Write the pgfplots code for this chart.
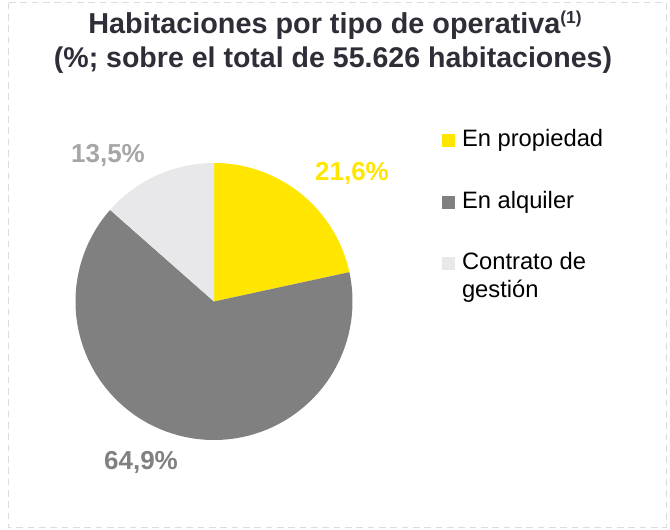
\documentclass[border=0pt]{standalone}
\usepackage{pgfplots}
\pgfplotsset{compat=1.18}
\usepackage{fontspec}
\setmainfont{Liberation Sans}
\definecolor{eyyellow}{HTML}{FFE600}
\definecolor{eydark}{HTML}{808080}
\definecolor{eylight}{HTML}{E8E8EA}
\definecolor{titlecol}{HTML}{2E2E38}
\definecolor{lbllight}{HTML}{A6A6A6}
\definecolor{bordercol}{HTML}{DCDCDC}
% shares (%)
\def\pA{21.6}% En propiedad
\def\pB{64.9}% En alquiler
\def\pC{13.5}% Contrato de gestion
\begin{document}
\begin{tikzpicture}
\begin{scope}[x=0.75pt,y=-0.75pt]
\path[use as bounding box] (0,0) rectangle (670,529);
\draw[draw=bordercol, line width=0.75pt, dash pattern=on 5pt off 3.5pt] (8,2.5) rectangle (666,527);
\node[anchor=base, inner sep=0pt, font=\fontsize{21.6pt}{26pt}\selectfont\bfseries, text=titlecol] at (335,33) {Habitaciones por tipo de operativa\raisebox{0.32em}{\fontsize{13pt}{15pt}\selectfont(1)}};
\node[anchor=base, inner sep=0pt, font=\fontsize{21.4pt}{26pt}\selectfont\bfseries, text=titlecol] at (333,67) {(\%; sobre el total de 55.626 habitaciones)};
\node[anchor=base, inner sep=0pt, font=\fontsize{19.5pt}{23pt}\selectfont\bfseries, text=eyyellow] at (352,180) {21,6\%};
\node[anchor=base, inner sep=0pt, font=\fontsize{19.5pt}{23pt}\selectfont\bfseries, text=lbllight] at (108,162) {13,5\%};
\node[anchor=base, inner sep=0pt, font=\fontsize{19.5pt}{23pt}\selectfont\bfseries, text=eydark] at (141,469) {64,9\%};
\end{scope}
\begin{axis}[
  at={(160.5pt,-226.125pt)}, anchor=center,
  hide axis, scale only axis,
  width=207.75pt, height=207.75pt,
  xmin=-1, xmax=1, ymin=-1, ymax=1,
  clip=false,
  legend style={at={(1.3231,1.1215)}, anchor=north west, draw=none, fill=none,
    inner sep=0pt, outer sep=0pt,
    font=\fontsize{17.8pt}{21pt}\selectfont,
    nodes={inner sep=0pt, text height=13.2pt, text depth=3.9pt},
    row sep=29.0pt, column sep=5.25pt},
  legend cell align=left,
  legend image code/.code={\fill[#1] (0pt,-4.875pt) rectangle (9.75pt,4.875pt);},
]
\addplot[fill=eyyellow, draw=none, domain={90-3.6*\pA}:90, samples=120]
  ({cos(x)},{sin(x)}) -- (axis cs:0,0) -- cycle;
\addlegendentry{En propiedad}
\addplot[fill=eydark, draw=none, domain={90-3.6*(\pA+\pB)}:{90-3.6*\pA}, samples=240]
  ({cos(x)},{sin(x)}) -- (axis cs:0,0) -- cycle;
\addlegendentry{En alquiler}
\addplot[fill=eylight, draw=none, domain={90-3.6*(\pA+\pB+\pC)}:{90-3.6*(\pA+\pB)}, samples=80]
  ({cos(x)},{sin(x)}) -- (axis cs:0,0) -- cycle;
\addlegendentry{\parbox[t]{130pt}{Contrato de\\gestión}}
\end{axis}
\end{tikzpicture}
\end{document}
